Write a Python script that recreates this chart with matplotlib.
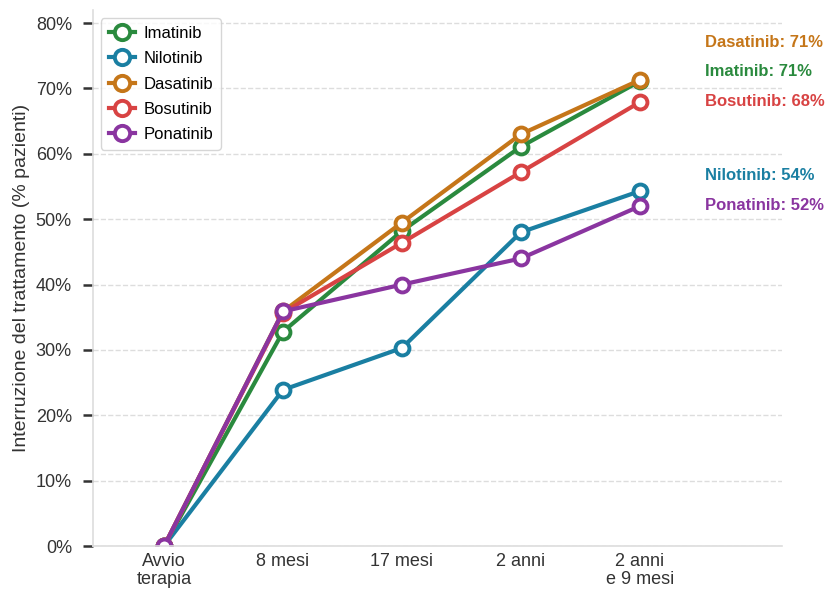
import numpy as np
import matplotlib.pyplot as plt

plt.rcParams['font.family'] = ['Liberation Sans', 'DejaVu Sans']

categorie = ['Avvio\nterapia', '8 mesi', '17 mesi', '2 anni', '2 anni\ne 9 mesi']
farmaci = ['Imatinib', 'Nilotinib', 'Dasatinib', 'Bosutinib', 'Ponatinib']
imatinib = [0, 32.8, 48.2, 61.1, 71.1]
nilotinib = [0, 23.9, 30.3, 48.0, 54.3]
dasatinib = [0, 35.9, 49.5, 63.0, 71.3]
bosutinib = [0, 35.7, 46.4, 57.2, 67.9]
ponatinib = [0, 35.9, 40.0, 44.0, 52.0]
etichette = ['71%', '54%', '71%', '68%', '52%']
colori = ['#2a8a3e', '#1a7fa2', '#c57619', '#d84343', '#8a35a0']

serie = [imatinib, nilotinib, dasatinib, bosutinib, ponatinib]
x = np.arange(len(categorie))

fig, ax = plt.subplots(figsize=(8.28, 5.91), dpi=100)
for nome, valori, col in zip(farmaci, serie, colori):
    ax.plot(x, valori, color=col, linewidth=3, marker='o', markersize=10,
            markerfacecolor='white', markeredgewidth=2.8, markeredgecolor=col,
            label=nome)

# etichette finali a destra
pos_y = {'Dasatinib': 77.1, 'Imatinib': 72.6, 'Bosutinib': 68.0,
         'Nilotinib': 56.7, 'Ponatinib': 52.1}
for nome, et, col in zip(farmaci, etichette, colori):
    ax.text(4.55, pos_y[nome], f'{nome}: {et}', color=col, fontsize=12,
            fontweight='bold', va='center', ha='left')

ax.set_xlim(-0.6, 5.2)
ax.set_ylim(0, 82)
ax.set_xticks(x)
ax.set_xticklabels(categorie, fontsize=13, color='#333333', linespacing=1.05)
ax.set_yticks(np.arange(0, 81, 10))
ax.set_yticklabels([f'{v}%' for v in range(0, 81, 10)], fontsize=13, color='#333333')
ax.set_ylabel('Interruzione del trattamento (% pazienti)', fontsize=14, color='#333333')
ax.tick_params(axis='x', length=0, pad=5)
ax.tick_params(axis='y', length=7, width=1.8, color='#333333', pad=8)

ax.yaxis.grid(True, linestyle='--', color='#dddddd', linewidth=1)
ax.set_axisbelow(True)
for s in ['top', 'right']:
    ax.spines[s].set_visible(False)
for s in ['left', 'bottom']:
    ax.spines[s].set_color('#dddddd')
    ax.spines[s].set_linewidth(1.2)

ax.legend(loc='upper left', fontsize=12, frameon=True, edgecolor='#cccccc',
          handlelength=1.6, handletextpad=0.5, borderpad=0.45,
          labelspacing=0.62, markerscale=1.1)

plt.subplots_adjust(left=0.112, right=0.945, top=0.983, bottom=0.076)
plt.savefig('out.png', dpi=100)
